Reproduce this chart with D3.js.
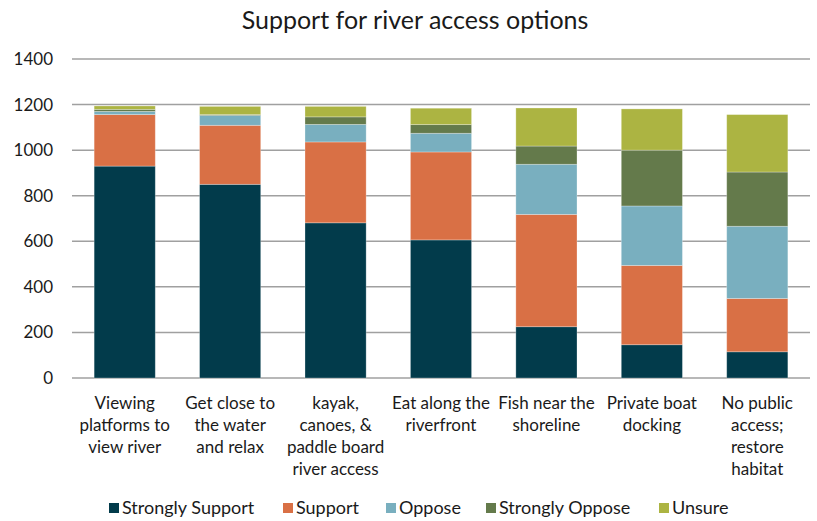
<!DOCTYPE html>
<html><head><meta charset="utf-8">
<script src="https://cdn.jsdelivr.net/npm/d3@7"></script>
<style>body{margin:0;background:#fff}svg{display:block}text{font-family:Lato,"Open Sans",sans-serif;fill:#1a1a1a}</style>
</head><body><svg id="c" width="817" height="521"></svg>
<script>
const categories = [["Viewing","platforms to","view river"],["Get close to","the water","and relax"],["kayak,","canoes, &","paddle board","river access"],["Eat along the","riverfront"],["Fish near the","shoreline"],["Private boat","docking"],["No public","access;","restore","habitat"]];
const seriesNames = ["Strongly Support","Support","Oppose","Strongly Oppose","Unsure"];
const stronglySupport = [930, 850, 681, 606, 225, 146, 115];
const support = [226, 259, 355, 386, 493, 348, 234];
const oppose = [14, 43, 77, 82, 220, 261, 317];
const stronglyOppose = [9, 4, 33, 38, 80, 245, 238];
const unsure = [15, 36, 46, 72, 167, 181, 252];
const yTicks = [0,200,400,600,800,1000,1200,1400];
const colors = ["#023b4b","#d97045","#79afbf","#647a4b","#acb442"];

const svg = d3.select("#c");
const m = {l:72, r:810, t:59, b:378};
const x = d3.scaleBand().domain(d3.range(categories.length)).range([m.l, m.r]).paddingInner(0.42).paddingOuter(0.21);
const y = d3.scaleLinear().domain([0,1400]).range([m.b, m.t]);

svg.append("text").attr("x",415).attr("y",29).attr("text-anchor","middle").style("font-size","25px").text("Support for river access options");

svg.append("g").selectAll("line").data(yTicks).join("line")
  .attr("x1",m.l).attr("x2",m.r).attr("y1",d=>y(d)).attr("y2",d=>y(d))
  .attr("stroke","#a0a0a0").attr("stroke-width",1.5);

svg.append("g").selectAll("text").data(yTicks).join("text")
  .attr("x",53).attr("y",d=>y(d)+6).attr("text-anchor","end").style("font-size","17px").text(d=>d);

const values = [stronglySupport, support, oppose, stronglyOppose, unsure];
const rows = categories.map((c,i)=>{const o={i}; seriesNames.forEach((s,j)=>o[s]=values[j][i]); return o;});
const stack = d3.stack().keys(seriesNames)(rows);
svg.append("g").selectAll("g").data(stack).join("g").attr("fill",(d,i)=>colors[i])
  .selectAll("rect").data(d=>d).join("rect")
  .attr("x",(d,i)=>x(i)).attr("width",x.bandwidth())
  .attr("y",d=>y(d[1])).attr("height",d=>y(d[0])-y(d[1]))
  .attr("stroke","rgba(255,255,255,0.35)").attr("stroke-width",0.8);

const cl = svg.append("g").selectAll("text").data(categories).join("text")
  .attr("text-anchor","middle").style("font-size","17px");
cl.each(function(lines,i){
  d3.select(this).selectAll("tspan").data(lines).join("tspan")
    .attr("x",x(i)+x.bandwidth()/2).attr("y",(d,k)=>409+k*22).text(d=>d);
});

const legX = [109,283,386,486,659];
const lg = svg.append("g").selectAll("g").data(seriesNames).join("g").attr("transform",(d,i)=>`translate(${legX[i]},503)`);
lg.append("rect").attr("width",10).attr("height",10).attr("fill",(d,i)=>colors[i]);
lg.append("text").attr("x",13).attr("y",11).style("font-size","18px").text(d=>d);
</script></body></html>
